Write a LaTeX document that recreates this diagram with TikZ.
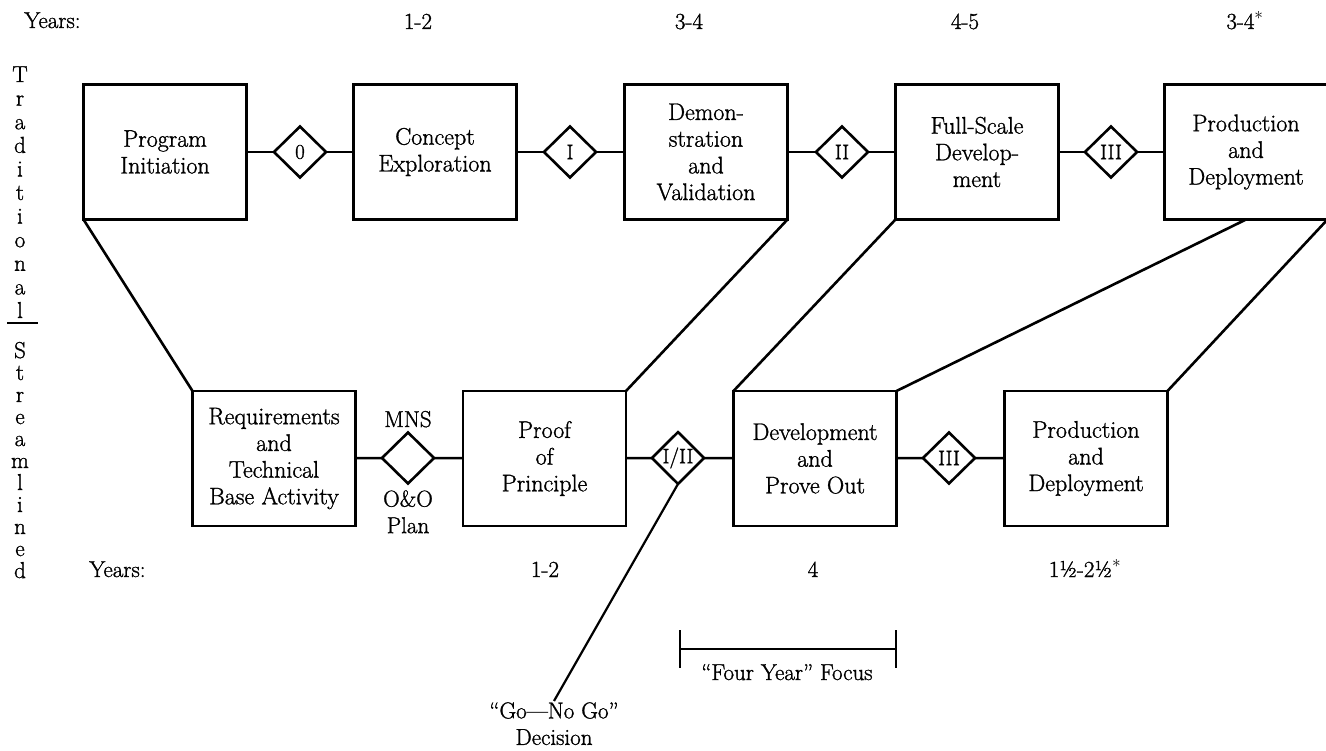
\documentclass[tikz,border=0pt]{standalone}
\usepackage{fontspec}
\setmainfont{Latin Modern Roman}[FakeBold=1.2]
\usetikzlibrary{shapes.geometric}
\begin{document}
\begin{tikzpicture}[x=1pt,y=-1pt,
  line width=2.6pt, line join=miter,
  stage/.style={draw, rectangle, minimum width=163pt, minimum height=135pt,
    inner sep=2pt, outer sep=0pt, align=center,
    font=\fontsize{24}{26.7}\selectfont},
  gate/.style={draw, diamond, minimum width=52pt, minimum height=51pt,
    inner sep=0pt, outer sep=0pt, font=\fontsize{21}{22}\selectfont},
  lbl/.style={inner sep=0pt, font=\fontsize{23}{26.5}\selectfont},
  vlet/.style={inner sep=0pt, anchor=base, font=\fontsize{23}{26}\selectfont},
]
\useasboundingbox (0,0) rectangle (1326,751);

% traditional sequence
\node[stage] (pi)  at (165,152)  {Program\\Initiation};
\node[stage] (ce)  at (435,152)  {Concept\\Exploration};
\node[stage] (dv)  at (706,152)  {Demon-\\stration\\and\\Validation};
\node[stage] (fs)  at (977,152)  {Full-Scale\\Develop-\\ment};
\node[stage] (pdt) at (1246,152) {Production\\and\\Deployment};
\node[gate] (g0) at (300,152)  {0};
\node[gate] (g1) at (570,152)  {I};
\node[gate] (g2) at (842,152)  {II};
\node[gate] (g3) at (1111,152) {III};
\draw (pi) -- (g0); \draw (g0) -- (ce);
\draw (ce) -- (g1); \draw (g1) -- (dv);
\draw (dv) -- (g2); \draw (g2) -- (fs);
\draw (fs) -- (g3); \draw (g3) -- (pdt);

% streamlined sequence
\node[stage] (rq)  at (274,458.5)  {Requirements\\and\\Technical\\Base Activity};
\node[stage] (pp)  at (544.5,458.5) {Proof\\of\\Principle};
\node[stage] (dp)  at (815,458.5)  {Development\\and\\Prove Out};
\node[stage] (pdb) at (1086,458.5) {Production\\and\\Deployment};
\node[gate] (mns) at (408,458) {};
\node[gate] (i2)  at (678,458) {I/II};
\node[gate] (g3b) at (949,458) {III};
\draw (rq) -- (mns); \draw (mns) -- (pp);
\draw (pp) -- (i2);  \draw (i2) -- (dp);
\draw (dp) -- (g3b); \draw (g3b) -- (pdb);

% phase mapping between the two sequences
\draw (pi.south west) -- (rq.north west);
\draw (dv.south east) -- (pp.north east);
\draw (fs.south west) -- (dp.north west);
\draw (pdt.south) -- (dp.north east);
\draw (pdt.south east) -- (pdb.north east);

% milestone labels
\node[lbl, anchor=base] (mnsl) at (408,427) {MNS};
\node[lbl, anchor=north, align=center] (ool) at (408,489) {O\&O\\Plan};
\node[lbl, anchor=north, align=center] (gng) at (554,701) {“Go—No Go”\\Decision};
\draw[line width=2.2pt] (i2.south) -- (gng.north);

% durations
\node[lbl, anchor=base west] (yt) at (23,28) {Years:};
\node[lbl, anchor=base] (yt1) at (418,29)  {1-2};
\node[lbl, anchor=base] (yt2) at (689,29)  {3-4};
\node[lbl, anchor=base] (yt3) at (965,29)  {4-5};
\node[lbl, anchor=base] (yt4) at (1245,29) {3-4$^{*}$};
\node[lbl, anchor=base west] (yb) at (88,577) {Years:};
\node[lbl, anchor=base] (yb1) at (545,577)  {1-2};
\node[lbl, anchor=base] (yb2) at (813,577)  {4};
\node[lbl, anchor=base] (yb3) at (1085,577) {1½-2½$^{*}$};

% four-year bracket
\coordinate (fa) at (680,649);
\coordinate (fb) at (896,649);
\draw[line width=2.2pt] (fa) -- (fb);
\draw[line width=2.2pt] ([yshift=19pt]fa) -- ([yshift=-19pt]fa);
\draw[line width=2.2pt] ([yshift=19pt]fb) -- ([yshift=-19pt]fb);
\node[lbl, anchor=base] (fyl) at (787,680) {“Four Year” Focus};

% side caption
\foreach \ch [count=\i from 0] in {T,r,a,d,i,t,i,o,n,a,l}
  \node[vlet] (tl\i) at (20,82+23.6*\i) {\ch};
\coordinate (ra) at (7,323);
\coordinate (rb) at (38,323);
\draw[line width=1.6pt] (ra) -- (rb);
\foreach \ch [count=\i from 0] in {S,t,r,e,a,m,l,i,n,e,d}
  \node[vlet] (sl\i) at (20,358+22*\i) {\ch};
\end{tikzpicture}
\end{document}
